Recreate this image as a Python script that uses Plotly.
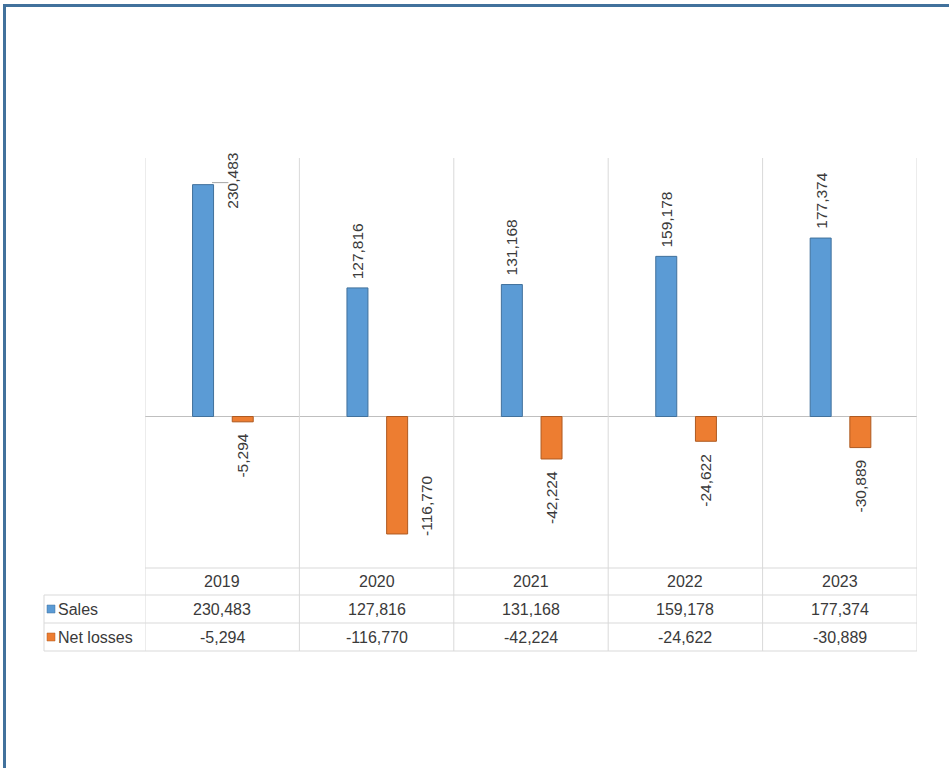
import plotly.graph_objects as go
import numpy as np

years = ["2019", "2020", "2021", "2022", "2023"]
sales = [230483, 127816, 131168, 159178, 177374]
net_losses = [-5294, -116770, -42224, -24622, -30889]
series_names = ["Sales", "Net losses"]

BLUE, BLUE_EDGE = "#5B9BD5", "#41719C"
ORANGE, ORANGE_EDGE = "#ED7D31", "#AE5A21"
TXT = "#3A3A3A"
GRID = "#D9D9D9"
FONT = "Liberation Sans"
FS = 16

# plot-area pixel frame
L, R, T, B = 145, 917, 158, 568
W, H = R - L, B - T


def px_x(px):
    return (px - L) / W


def px_y(py):
    return (B - py) / H


xs = np.arange(len(years))
BW = 0.136
OFF_S, OFF_N = -0.192, 0.065

fig = go.Figure()
fig.add_trace(go.Bar(x=xs, y=sales, name=series_names[0], width=BW, offset=OFF_S,
                     marker=dict(color=BLUE, line=dict(color=BLUE_EDGE, width=1)),
                     showlegend=False, hoverinfo="skip"))
fig.add_trace(go.Bar(x=xs, y=net_losses, name=series_names[1], width=BW, offset=OFF_N,
                     marker=dict(color=ORANGE, line=dict(color=ORANGE_EDGE, width=1)),
                     showlegend=False, hoverinfo="skip"))

ann = []
shapes = []


def fmt(v):
    return f"{v:,}"


LFS = 15.5

# data labels
for i, v in enumerate(sales):
    cx = i + OFF_S + BW / 2
    if i == 0:
        ann.append(dict(x=i + 0.07, y=v, xref="x", yref="y", text=fmt(v), textangle=-90,
                        showarrow=False, xanchor="center", yanchor="middle", yshift=4,
                        font=dict(family=FONT, size=LFS, color=TXT)))
        # leader line
        shapes.append(dict(type="line", xref="x", yref="y", x0=i + OFF_S + BW - 0.01,
                           x1=i + 0.04, y0=v + 2000, y1=v + 2000,
                           line=dict(color="#A6A6A6", width=1)))
    else:
        ann.append(dict(x=cx, y=v, xref="x", yref="y", text=fmt(v), textangle=-90,
                        showarrow=False, xanchor="center", yanchor="bottom", yshift=7,
                        font=dict(family=FONT, size=LFS, color=TXT)))

for i, v in enumerate(net_losses):
    cx = i + OFF_N + BW / 2
    if i == 1:
        ann.append(dict(x=i + 0.326, y=v, xref="x", yref="y", text=fmt(v), textangle=-90,
                        showarrow=False, xanchor="center", yanchor="bottom", yshift=-4,
                        font=dict(family=FONT, size=LFS, color=TXT)))
    else:
        ann.append(dict(x=cx, y=v, xref="x", yref="y", text=fmt(v), textangle=-90,
                        showarrow=False, xanchor="center", yanchor="top", yshift=-10,
                        font=dict(family=FONT, size=LFS, color=TXT)))

# data table
row_tops = [568, 595, 623, 651]
row_mid = [(row_tops[k] + row_tops[k + 1]) / 2 for k in range(3)]
for i in range(len(years)):
    for r, txt in enumerate([years[i], fmt(sales[i]), fmt(net_losses[i])]):
        ann.append(dict(x=i, y=px_y(row_mid[r]), xref="x", yref="paper", text=txt,
                        showarrow=False, xanchor="center", yanchor="middle",
                        font=dict(family=FONT, size=FS, color=TXT)))

# legend keys in table
for k, (nm, col, edge) in enumerate([(series_names[0], BLUE, BLUE_EDGE),
                                      (series_names[1], ORANGE, ORANGE_EDGE)]):
    ym = row_mid[k + 1]
    shapes.append(dict(type="rect", xref="paper", yref="paper",
                       x0=px_x(47), x1=px_x(55), y0=px_y(ym + 4), y1=px_y(ym - 4),
                       fillcolor=col, line=dict(color=edge, width=0.5)))
    ann.append(dict(x=px_x(56), y=px_y(ym), xref="paper", yref="paper", text=nm,
                    showarrow=False, xanchor="left", yanchor="middle",
                    font=dict(family=FONT, size=FS, color=TXT)))

# table horizontal lines
shapes.append(dict(type="line", xref="paper", yref="paper", x0=0, x1=1,
                   y0=px_y(568), y1=px_y(568), line=dict(color=GRID, width=1)))
for py in row_tops[1:]:
    shapes.append(dict(type="line", xref="paper", yref="paper", x0=px_x(44), x1=1,
                       y0=px_y(py), y1=px_y(py), line=dict(color=GRID, width=1)))
shapes.append(dict(type="line", xref="paper", yref="paper", x0=px_x(44), x1=px_x(44),
                   y0=px_y(651), y1=px_y(595), line=dict(color=GRID, width=1)))
# category separators
for b in np.arange(len(years) + 1) - 0.5:
    shapes.append(dict(type="line", xref="x", yref="paper", x0=b, x1=b,
                       y0=px_y(651), y1=1, line=dict(color=GRID, width=1)))

# outer frame (top and left edges visible)
shapes.append(dict(type="line", xref="paper", yref="paper", x0=px_x(3), x1=px_x(960),
                   y0=px_y(5.5), y1=px_y(5.5), line=dict(color="#41719C", width=3)))
shapes.append(dict(type="line", xref="paper", yref="paper", x0=px_x(4.5), x1=px_x(4.5),
                   y0=px_y(790), y1=px_y(4), line=dict(color="#41719C", width=3)))

ymax = (416.5 - T) * 994
ymin = -(B - 416.5) * 994

fig.update_layout(
    width=949, height=768,
    margin=dict(l=L, r=949 - R, t=T, b=768 - B),
    paper_bgcolor="white", plot_bgcolor="white",
    barmode="overlay",
    xaxis=dict(range=[-0.5, len(years) - 0.5], showticklabels=False, showgrid=False,
               zeroline=False, showline=False, ticks=""),
    yaxis=dict(range=[ymin, ymax], showticklabels=False, showgrid=False,
               zeroline=True, zerolinecolor="#BFBFBF", zerolinewidth=1, showline=False, ticks=""),
    annotations=ann,
    shapes=shapes,
)

fig.write_html("out.html")
